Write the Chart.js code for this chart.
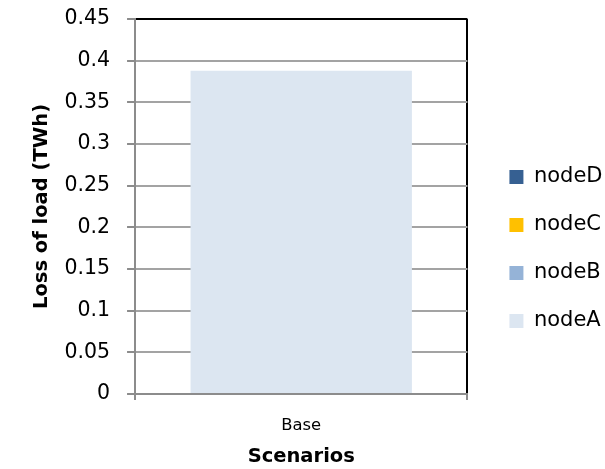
<!DOCTYPE html>
<html><head><meta charset="utf-8">
<script src="https://cdn.jsdelivr.net/npm/chart.js@4/dist/chart.umd.min.js"></script>
<style>html,body{margin:0;padding:0;background:#fff}#wrap{width:605px;height:469px}</style>
</head><body><div id="wrap"><canvas id="c" width="605" height="469"></canvas></div>
<script>
const categories = ["Base"];
const seriesNames = ["nodeA", "nodeB", "nodeC", "nodeD"];
const nodeA = [0.388];
const nodeB = [0];
const nodeC = [0];
const nodeD = [0];
const seriesColors = ["#DCE6F1", "#95B3D7", "#FFC000", "#366092"];
const yTicks = [0, 0.05, 0.1, 0.15, 0.2, 0.25, 0.3, 0.35, 0.4, 0.45];

const values = [nodeA, nodeB, nodeC, nodeD];
const FONT = "'DejaVu Sans', sans-serif";
const GRID = '#A3A3A3';
const AXIS = '#8C8C8C';

const legendShift = {
  id: 'legendShift',
  afterLayout(chart) {
    const lg = chart.legend;
    if (!lg) return;
    const dx = 15, dy = 5;
    lg.left += dx; lg.right += dx;
    lg.top += dy; lg.bottom += dy;
  }
};

new Chart(document.getElementById('c'), {
  type: 'bar',
  data: {
    labels: categories,
    datasets: seriesNames.map((n, i) => ({
      label: n, data: values[i], backgroundColor: seriesColors[i],
      borderWidth: 0, categoryPercentage: 0.666, barPercentage: 1
    }))
  },
  options: {
    responsive: false, animation: false,
    layout: { padding: { left: 20, right: 7.5, top: 19, bottom: 0 } },
    plugins: {
      tooltip: { enabled: false },
      legend: {
        position: 'right', reverse: true,
        labels: { boxWidth: 14, boxHeight: 14, padding: 27, color: '#000',
          font: { family: FONT, size: 21 } }
      }
    },
    scales: {
      x: {
        stacked: true,
        grid: { display: true, drawOnChartArea: true, drawTicks: true, tickLength: 6,
          color: c => c.index === 0 ? AXIS : '#000', tickColor: AXIS, lineWidth: 2, offset: true },
        border: { color: AXIS, width: 2, z: 1 },
        ticks: { color: '#000', font: { family: FONT, size: 16.4 }, padding: 16 },
        title: { display: true, text: 'Scenarios', color: '#000', font: { family: FONT, size: 19.5, weight: 'bold' }, padding: { top: -6, bottom: 0 } }
      },
      y: {
        stacked: true, min: 0, max: 0.45,
        afterBuildTicks: s => { s.ticks = yTicks.map(v => ({ value: v })); },
        afterFit: s => { s.paddingTop = 0; s.paddingBottom = 0; },
        grid: {
          color: c => (c.tick && c.tick.value === 0.45) ? '#000' : GRID,
          tickColor: AXIS,
          lineWidth: 2, tickLength: 8
        },
        border: { color: AXIS, width: 2, z: 1 },
        ticks: { color: '#000', font: { family: FONT, size: 20.5 }, padding: 17,
          callback: v => String(v) },
        title: { display: true, text: 'Loss of load (TWh)', color: '#000', font: { family: FONT, size: 19.5, weight: 'bold' }, padding: { top: 10, bottom: -6 } }
      }
    }
  },
  plugins: [legendShift]
});
</script></body></html>
